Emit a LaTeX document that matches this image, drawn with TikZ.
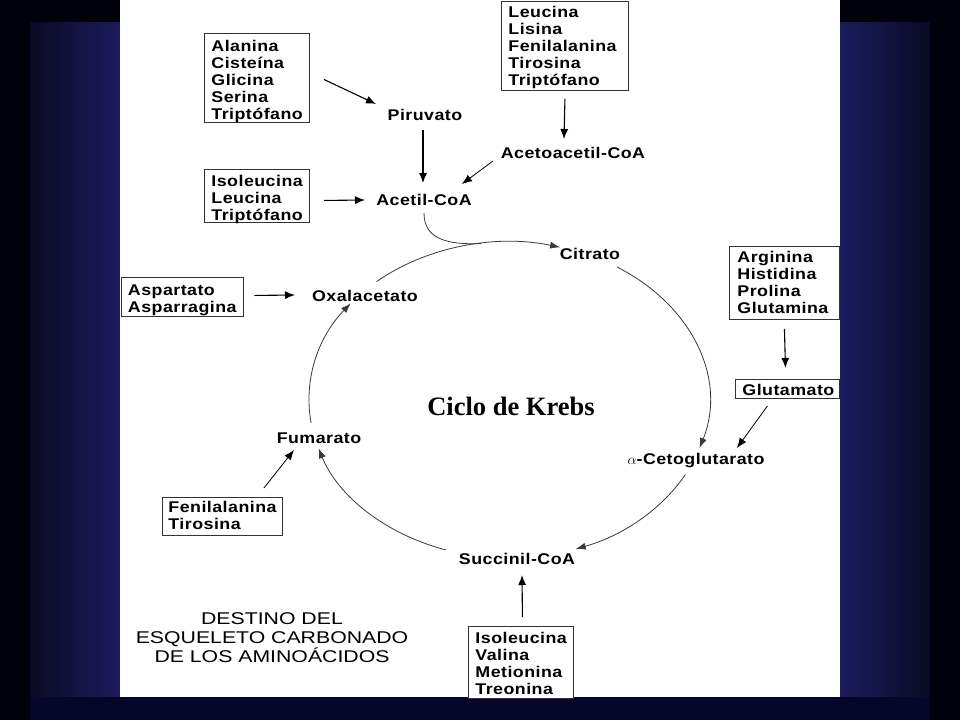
\documentclass[tikz,border=0pt]{standalone}
\usepackage{fontspec}
\setmainfont{Liberation Sans}
\newfontfamily\lblfont[FakeStretch=1.15,LetterSpace=3]{Liberation Sans}
\newfontfamily\titlefont[FakeStretch=1.25]{Liberation Sans}
\newfontfamily\krebsfont{Liberation Serif}
\usetikzlibrary{arrows.meta,calc}
\definecolor{bgblue}{HTML}{1B1B5E}
\definecolor{bgdark}{HTML}{0A0A24}
\definecolor{bgblack}{HTML}{01010C}
\definecolor{bgbottom}{HTML}{06062A}
\definecolor{cycgray}{HTML}{3A3A3A}
\begin{document}
\begin{tikzpicture}[x=1pt,y=-1pt,
  lbl/.style={font=\lblfont\bfseries\fontsize{15.5}{17}\selectfont, inner sep=0pt, anchor=base},
  abox/.style={draw=black!80, line width=0.9pt, anchor=north west, align=left,
    inner xsep=7pt, inner ysep=0pt, fill=white,
    font=\lblfont\bfseries\fontsize{15.5}{17}\selectfont},
  arr/.style={-{Latex[length=10pt,width=8pt]}, line width=1.1pt, black},
  cyc/.style={-{Latex[length=10pt,width=7pt]}, line width=0.8pt, cycgray},
  cycline/.style={line width=0.8pt, cycgray}]
\useasboundingbox (0,0) rectangle (960,720);
% background
\fill[bgblack] (0,0) rectangle (960,720);
\shade[left color=bgdark, right color=bgblue] (30,22) rectangle (120,697);
\shade[left color=bgblue, right color=bgdark] (840,22) rectangle (930,697);
\fill[bgbottom] (30,697) rectangle (930,720);
\fill[white] (120,0) rectangle (840,697);

% metabolite labels
\node[lbl] (piru) at (425,120) {Piruvato};
\node[lbl] (acetil) at (424,205) {Acetil-CoA};
\node[lbl] (acetoac) at (573,158) {Acetoacetil-CoA};
\node[lbl] (citr) at (590,259) {Citrato};
\node[lbl] (oxal) at (365,301) {Oxalacetato};
\node[lbl] (fum) at (319,443) {Fumarato};
\node[lbl] (aceto) at (696,464) {$\alpha$-Cetoglutarato};
\node[lbl] (succ) at (517,564) {Succinil-CoA};

% amino acid boxes
\node[abox, text width=91pt, text height=18pt, text depth=71pt] (ala) at (204,33)
  {Alanina\\Cisteína\\Glicina\\Serina\\Triptófano};
\node[abox, text width=113pt, text height=16.2pt, text depth=73.3pt] (leu) at (501,0.5)
  {Leucina\\Lisina\\Fenilalanina\\Tirosina\\Triptófano};
\node[abox, text width=91pt, text height=17pt, text depth=36pt] (iso1) at (204,169)
  {Isoleucina\\Leucina\\Triptófano};
\node[abox, text width=108pt, text height=18pt, text depth=21pt] (asp) at (120.5,277)
  {Aspartato\\Asparragina};
\node[abox, text width=94pt, text height=16pt, text depth=57pt, inner xsep=8pt] (arg) at (729,246)
  {Arginina\\Histidina\\Prolina\\Glutamina};
\node[abox, text width=90pt, text height=16pt, text depth=3pt] (glu) at (735,379)
  {Glutamato};
\node[abox, text width=108pt, text height=14.7pt, text depth=23.3pt, inner xsep=6pt] (fen) at (162,497)
  {Fenilalanina\\Tirosina};
\node[abox, text width=91pt, text height=17pt, text depth=55pt] (iso2) at (468,626)
  {Isoleucina\\Valina\\Metionina\\Treonina};

% titles
\node[font=\krebsfont\bfseries\fontsize{26.5}{30}\selectfont, inner sep=0pt, anchor=base]
  (krebs) at (511,415) {Ciclo de Krebs};
\node[font=\titlefont\fontsize{17}{19.2}\selectfont, align=center, inner sep=0pt, anchor=north]
  (title) at (272,612) {DESTINO DEL\\ESQUELETO CARBONADO\\DE LOS AMINOÁCIDOS};

% straight arrows
\draw[arr] ($(ala.east)+(14,1.5)$) -- ($(piru.base)+(-49,-16)$);
\draw[arr] ($(piru.base)+(-2,10)$) -- ($(acetil.base)+(-1,-22)$);
\draw[arr] ($(leu.south)+(0,8)$) -- ($(acetoac.base)+(-9,-19)$);
\draw[arr, line width=0.8pt] ($(acetoac.base)+(-80,3)$) -- ($(acetil.base)+(38,-21)$);
\draw[arr] ($(iso1.east)+(14,4.5)$) -- ($(acetil.base)+(-59,-5)$);
\draw[arr] ($(asp.east)+(11,-1.5)$) -- ($(oxal.base)+(-70,-6)$);
\draw[arr] ($(arg.south)+(0,9)$) -- ($(glu.north)+(-2,-11)$);
\draw[arr, line width=0.8pt] ($(glu.south)+(-20,7)$) -- ($(aceto.base)+(41,-16)$);
\draw[arr] ($(iso2.north)+(1.5,-9)$) -- ($(succ.base)+(5,11)$);
\draw[arr, line width=0.8pt] ($(fen.north east)+(-19,-9)$) -- ($(fum.base)+(-25,7)$);

% Krebs cycle (ellipse arcs)
\coordinate (O) at (509,400);
\coordinate (c1) at ([shift={(-131.5:200 and 158)}]O);
\coordinate (c2) at ([shift={(-57.3:200 and 158)}]O);
\coordinate (c3) at ([shift={(28.1:200 and 158)}]O);
\coordinate (c4) at ([shift={(108.4:200 and 158)}]O);
\coordinate (c5) at ([shift={(171.7:200 and 158)}]O);
\coordinate (jn) at ([shift={(-98:200 and 158)}]O);
\draw[cyc] (c1) arc[start angle=-131.5, end angle=-75.2, x radius=200, y radius=158];
\draw[cyc] (c2) arc[start angle=-57.3, end angle=17.7, x radius=200, y radius=158];
\draw[cyc] (c3) arc[start angle=28.1, end angle=70.5, x radius=200, y radius=158];
\draw[cyc] (c4) arc[start angle=108.4, end angle=162.2, x radius=200, y radius=158];
\draw[cyc] (c5) arc[start angle=171.7, end angle=217.7, x radius=200, y radius=158];
\draw[cycline] ($(acetil.base)+(0,8)$) .. controls ($(acetil.base)+(0,33)$) and ($(acetil.base)+(21,40)$) .. (jn);
\end{tikzpicture}
\end{document}
